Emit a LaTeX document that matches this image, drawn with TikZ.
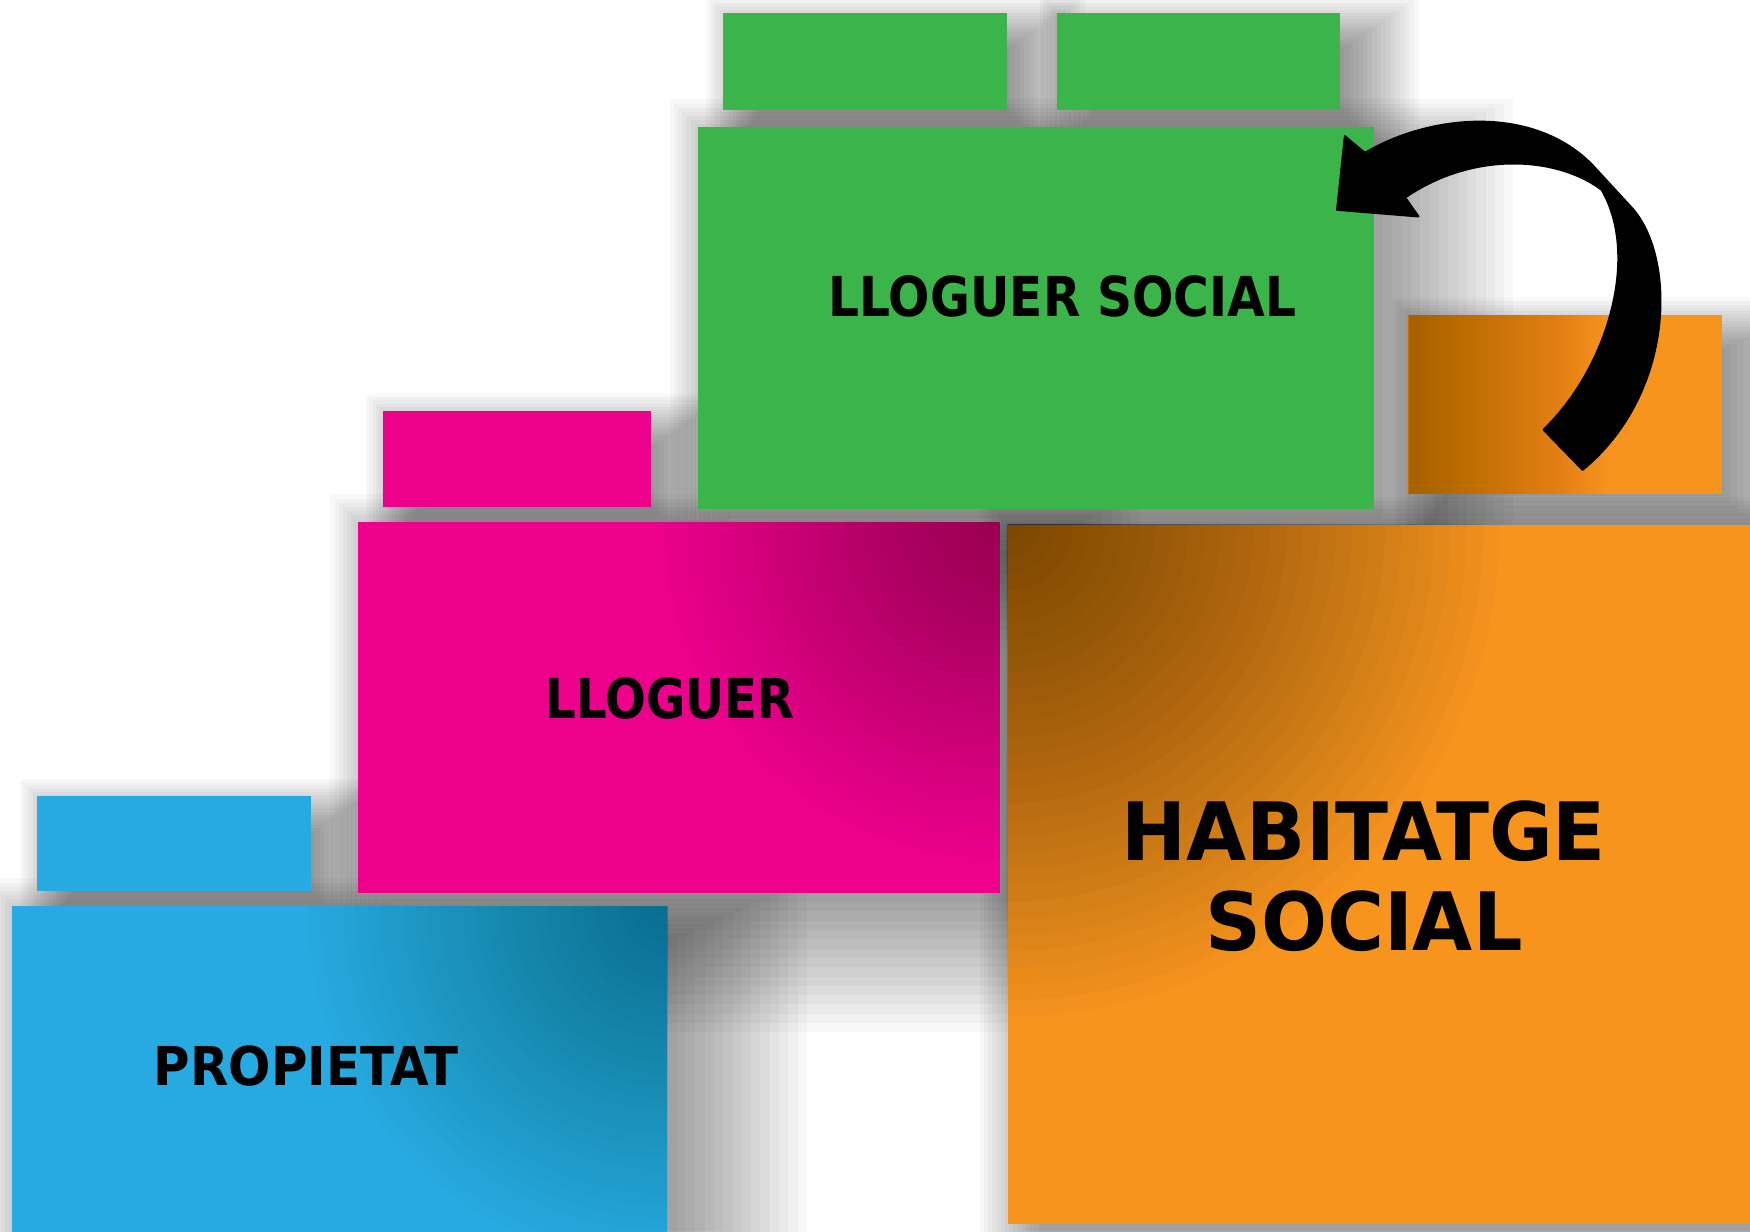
\documentclass[tikz,border=0pt]{standalone}
\usepackage{fontspec}
\setmainfont{DejaVu Sans}
\newfontfamily\fontA[FakeStretch=0.875]{DejaVu Sans}
\newfontfamily\fontAA[FakeStretch=0.885]{DejaVu Sans}
\newfontfamily\fontB[FakeStretch=0.93]{DejaVu Sans}
\newfontfamily\fontC[FakeStretch=0.965]{DejaVu Sans}
\usetikzlibrary{fit}
\pgfdeclarelayer{bglayer}
\pgfdeclarelayer{shadelayer}
\pgfsetlayers{bglayer,shadelayer,main}
\definecolor{cgreen}{HTML}{3BB54A}
\definecolor{cpink}{HTML}{EC008C}
\definecolor{cblue}{HTML}{27AAE1}
\definecolor{corange}{HTML}{F7941E}
\tikzset{
  block/.style={inner sep=0pt, outer sep=0pt, draw=none},
  lbl/.style={text=black, inner sep=0pt, outer sep=0pt},
}
% soft shadow: #1 node, #2 inner offset of NW 50%-line, #3 NW spread,
% #4 outer offset of SE 50%-line, #5 SE spread
\newcommand\blockshadow[5]{%
  \foreach \i in {0,...,24}{%
    \pgfmathsetmacro\t{-1+\i/12}%
    \pgfmathsetmacro\a{#2-\t*#3}%
    \pgfmathsetmacro\b{#4+\t*#5}%
    \fill[black,opacity=0.027] ([shift={(\a,\a)}]#1.north west) rectangle ([shift={(\b,\b)}]#1.south east);
  }}
% radial darkening from an anchor: #1 anchor, #2 step, #3 opacity
\newcommand\cornerdark[3]{%
  \foreach \k in {1,...,30}{\fill[black,opacity=#3] (path picture bounding box.#1) circle[radius=\k*#2];}}
\begin{document}
\begin{tikzpicture}[x=1.11607pt,y=-1.11607pt]
\begin{pgfonlayer}{bglayer}
\fill[white] (0,0) rectangle (1568,1103);
\end{pgfonlayer}
\useasboundingbox (0,0) rectangle (1568,1103);

% green group
\node[block, fill=cgreen, fit={(648,12)(902,99)}] (gsl) {};
\node[block, fill=cgreen, fit={(947,12)(1201,99)}] (gsr) {};
\node[block, fill=cgreen, fit={(625,114)(1231,456)}] (gm) {};
% orange small
\node[block, fill=corange, fit={(1262,282)(1543,443)},
  path picture={\foreach \k in {1,...,40}{\fill[black,opacity=0.0078] (path picture bounding box.south west) rectangle ([xshift=\k*5pt]path picture bounding box.north west);}}] (os) {};
% pink group
\node[block, fill=cpink, fit={(343,368)(583,454)}] (ps) {};
\node[block, fill=cpink, fit={(321,468)(896,800)},
  path picture={\cornerdark{north east}{11.2pt}{0.0118}}] (pm) {};
% blue group
\node[block, fill=cblue, fit={(33,713)(279,798)}] (bs) {};
\node[block, fill=cblue, fit={(11,812)(598,1110)},
  path picture={\cornerdark{north east}{12pt}{0.0118}}] (bm) {};
% orange main
\node[block, fill=corange, fit={(903,470)(1575,1097)},
  path picture={\cornerdark{north west}{16.4pt}{0.0196}}] (om) {};

\begin{pgfonlayer}{shadelayer}
\blockshadow{gsl}{20}{35}{20}{50}
\blockshadow{gsr}{20}{35}{20}{50}
\blockshadow{gm}{20}{45}{25}{100}
\blockshadow{os}{20}{35}{25}{70}
\blockshadow{ps}{20}{35}{20}{50}
\blockshadow{pm}{20}{45}{25}{100}
\blockshadow{bs}{20}{35}{20}{50}
\blockshadow{bm}{20}{45}{25}{100}
\blockshadow{om}{20}{45}{25}{100}
\end{pgfonlayer}

% labels
\node[lbl, anchor=base, font=\fontAA\bfseries\fontsize{55}{60}\selectfont] (tgm) at (952,284) {LLOGUER SOCIAL};
\node[lbl, anchor=base, font=\fontA\bfseries\fontsize{55}{60}\selectfont] (tpm) at (600.5,644) {LLOGUER};
\node[lbl, anchor=base, font=\fontB\bfseries\fontsize{53.6}{60}\selectfont] (tbm) at (274.5,973) {PROPIETAT};
\node[lbl, align=center, font=\fontC\bfseries\fontsize{80.5}{89.3}\selectfont] (tom) at (1222,785) {HABITATGE\\SOCIAL};

% curved block arrow
\filldraw[black, line width=2pt, line join=round]
  (1198,188) -- (1205,122) -- (1223,137)
  .. controls (1280,103) and (1372,93) .. (1426,147)
  -- (1461,185)
  .. controls (1502,228) and (1502,352) .. (1418,421)
  -- (1383,385)
  .. controls (1440,330) and (1470,230) .. (1435,170)
  .. controls (1395,140) and (1320,135) .. (1259,177)
  -- (1271,194) -- cycle;
\end{tikzpicture}
\end{document}
